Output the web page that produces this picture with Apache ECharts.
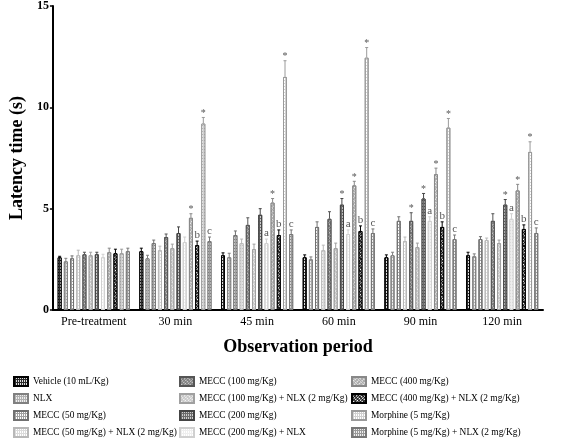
<!DOCTYPE html>
<html>
<head>
<meta charset="utf-8">
<script src="https://cdn.jsdelivr.net/npm/echarts@6/dist/echarts.min.js"></script>
<style>html,body{margin:0;padding:0;background:#fff}#c{width:567px;height:444px}</style>
</head>
<body>
<div id="c"></div>
<script>
const categories = ['Pre-treatment', '30 min', '45 min', '60 min', '90 min', '120 min'];
const yTicks = [0, 5, 10, 15];
const seriesNames = [
  'Vehicle (10 mL/Kg)', 'NLX', 'MECC (50 mg/Kg)', 'MECC (50 mg/Kg) + NLX (2 mg/Kg)',
  'MECC (100 mg/Kg)', 'MECC (100 mg/Kg) + NLX (2 mg/Kg)', 'MECC (200 mg/Kg)', 'MECC (200 mg/Kg) + NLX',
  'MECC (400 mg/Kg)', 'MECC (400 mg/Kg) + NLX (2 mg/Kg)', 'Morphine (5 mg/Kg)', 'Morphine (5 mg/Kg) + NLX (2 mg/Kg)'
];
const vehicle    = [2.6, 2.9, 2.7, 2.6, 2.6, 2.7];
const nlx        = [2.4, 2.55, 2.6, 2.5, 2.7, 2.65];
const mecc50     = [2.55, 3.3, 3.7, 4.1, 4.4, 3.5];
const mecc50nlx  = [2.7, 2.95, 3.3, 2.95, 3.4, 3.45];
const mecc100    = [2.75, 3.6, 4.2, 4.5, 4.4, 4.4];
const mecc100nlx = [2.7, 3.05, 3.0, 3.05, 3.1, 3.3];
const mecc200    = [2.75, 3.8, 4.7, 5.2, 5.5, 5.2];
const mecc200nlx = [2.6, 3.35, 3.3, 3.75, 4.4, 4.5];
const mecc400    = [2.85, 4.55, 5.3, 6.15, 6.7, 5.9];
const mecc400nlx = [2.8, 3.2, 3.7, 3.9, 4.1, 4.0];
const morphine   = [2.8, 9.2, 11.5, 12.45, 9.0, 7.8];
const morphnlx   = [2.9, 3.4, 3.75, 3.8, 3.5, 3.8];

const vehicleErr    = [0.05, 0.15, 0.12, 0.12, 0.12, 0.15];
const nlxErr        = [0.15, 0.15, 0.2, 0.12, 0.15, 0.12];
const mecc50Err     = [0.12, 0.15, 0.2, 0.25, 0.2, 0.12];
const mecc50nlxErr  = [0.25, 0.2, 0.2, 0.25, 0.2, 0.1];
const mecc100Err    = [0.1, 0.15, 0.35, 0.35, 0.4, 0.35];
const mecc100nlxErr = [0.15, 0.2, 0.25, 0.25, 0.2, 0.15];
const mecc200Err    = [0.1, 0.3, 0.3, 0.3, 0.25, 0.25];
const mecc200nlxErr = [0.15, 0.25, 0.2, 0.2, 0.2, 0.25];
const mecc400Err    = [0.2, 0.2, 0.2, 0.2, 0.3, 0.3];
const mecc400nlxErr = [0.2, 0.2, 0.25, 0.25, 0.25, 0.2];
const morphineErr   = [0.2, 0.3, 0.8, 0.5, 0.45, 0.5];
const morphnlxErr   = [0.15, 0.2, 0.2, 0.2, 0.2, 0.25];

const marks = {
  mecc100:    ['', '', '', '', '*', ''],
  mecc200:    ['', '', '', '*', '*', '*'],
  mecc200nlx: ['', '', 'a', 'a', 'a', 'a'],
  mecc400:    ['', '*', '*', '*', '*', '*'],
  mecc400nlx: ['', 'b', 'b', 'b', 'b', 'b'],
  morphine:   ['', '*', '*', '*', '*', '*'],
  morphnlx:   ['', 'c', 'c', 'c', 'c', 'c']
};
const empty = ['', '', '', '', '', ''];

const values = [vehicle, nlx, mecc50, mecc50nlx, mecc100, mecc100nlx, mecc200, mecc200nlx, mecc400, mecc400nlx, morphine, morphnlx];
const errors = [vehicleErr, nlxErr, mecc50Err, mecc50nlxErr, mecc100Err, mecc100nlxErr, mecc200Err, mecc200nlxErr, mecc400Err, mecc400nlxErr, morphineErr, morphnlxErr];
const labels = [empty, empty, empty, empty, marks.mecc100, empty, marks.mecc200, marks.mecc200nlx, marks.mecc400, marks.mecc400nlx, marks.morphine, marks.morphnlx];

const styles = [
  {fill: '#2a2a2a', border: '#000', decal: '#ddd', rot: 0},
  {fill: '#b0b0b0', border: '#808080', decal: '#eee', rot: 0},
  {fill: '#a0a0a0', border: '#707070', decal: '#fff', rot: 0},
  {fill: '#dadada', border: '#b8b8b8', decal: '#fff', rot: 0},
  {fill: '#777', border: '#555', decal: '#ccc', rot: 0.8},
  {fill: '#c4c4c4', border: '#a0a0a0', decal: '#f4f4f4', rot: 0.8},
  {fill: '#6a6a6a', border: '#444', decal: '#ccc', rot: 0},
  {fill: '#eeeeee', border: '#d0d0d0', decal: '#fff', rot: 0},
  {fill: '#a8a8a8', border: '#888', decal: '#eee', rot: -0.8},
  {fill: '#111', border: '#000', decal: '#fff', rot: 0.8},
  {fill: '#d0d0d0', border: '#9a9a9a', decal: '#fff', rot: 0},
  {fill: '#999', border: '#777', decal: '#eee', rot: 0}
];

const N = seriesNames.length;
const barW = 4;
const gapRatio = 0.55;
const font = 'Liberation Serif';

const series = seriesNames.map((name, i) => ({
  name: name,
  type: 'bar',
  data: values[i],
  barWidth: barW,
  barGap: (gapRatio * 100) + '%',
  itemStyle: {
    color: styles[i].fill,
    borderColor: styles[i].border,
    borderWidth: 1,
    decal: {symbol: 'rect', color: styles[i].decal, symbolSize: 1, dashArrayX: [1, 1], dashArrayY: [2, 1], rotation: styles[i].rot}
  },
  emphasis: {disabled: true}
}));

const errData = [];
for (let i = 0; i < N; i++) {
  for (let c = 0; c < categories.length; c++) {
    errData.push([c, i, values[i][c], errors[i][c], labels[i][c]]);
  }
}

series.push({
  type: 'custom',
  name: 'err',
  data: errData,
  z: 5,
  silent: true,
  renderItem: function (params, api) {
    const cat = api.value(0), si = api.value(1), v = api.value(2), e = api.value(3);
    const lab = errData[params.dataIndex][4];
    const step = barW * (1 + gapRatio);
    const off = (si - (N - 1) / 2) * step;
    const p0 = api.coord([cat, v]);
    const p1 = api.coord([cat, v + e]);
    const x = p0[0] + off;
    const col = styles[si].border;
    const children = [
      {type: 'line', shape: {x1: x, y1: p0[1], x2: x, y2: p1[1]}, style: {stroke: col, lineWidth: 1}},
      {type: 'line', shape: {x1: x - 1.5, y1: p1[1], x2: x + 1.5, y2: p1[1]}, style: {stroke: col, lineWidth: 1}}
    ];
    if (lab) {
      children.push({type: 'text', style: {text: lab, x: x, y: p1[1] - (lab === '*' ? -1 : 0), align: 'center', verticalAlign: 'bottom', fill: '#555', font: (lab === '*' ? '10px ' : '11px ') + font}});
    }
    return {type: 'group', children: children};
  }
});

function legendFor(names, left) {
  return {
    data: names, left: left, top: 376, orient: 'vertical', itemWidth: 14, itemHeight: 9, itemGap: 6,
    padding: 0, icon: 'rect', selectedMode: false,
    textStyle: {fontFamily: font, fontSize: 9.4, lineHeight: 11, color: '#000'}
  };
}

const chart = echarts.init(document.getElementById('c'), null, {renderer: 'canvas'});
chart.setOption({
  animation: false,
  backgroundColor: '#fff',
  grid: {left: 38, right: 24, top: 5, bottom: 134},
  legend: [
    legendFor(seriesNames.slice(0, 4), 13),
    legendFor(seriesNames.slice(4, 8), 179),
    legendFor(seriesNames.slice(8, 12), 351)
  ],
  xAxis: {
    type: 'category', data: categories,
    name: 'Observation period', nameLocation: 'middle', nameGap: 28,
    nameTextStyle: {fontFamily: font, fontSize: 18, fontWeight: 'bold', color: '#000'},
    axisLine: {lineStyle: {color: '#000', width: 2}},
    axisTick: {alignWithLabel: true, length: 3, lineStyle: {color: '#000', width: 1.5}},
    axisLabel: {interval: 0, fontFamily: font, fontSize: 12, color: '#000', margin: 6}
  },
  yAxis: {
    type: 'value', min: yTicks[0], max: yTicks[yTicks.length - 1], interval: 5,
    name: 'Latency time (s)', nameLocation: 'middle', nameGap: 16,
    nameTextStyle: {fontFamily: font, fontSize: 18, fontWeight: 'bold', color: '#000'},
    axisLine: {show: true, lineStyle: {color: '#000', width: 2}},
    axisTick: {show: true, length: 3, lineStyle: {color: '#000', width: 1.5}},
    splitLine: {show: false},
    axisLabel: {fontFamily: font, fontSize: 12, fontWeight: 'bold', color: '#000', margin: 4}
  },
  series: series
});
</script>
</body>
</html>
